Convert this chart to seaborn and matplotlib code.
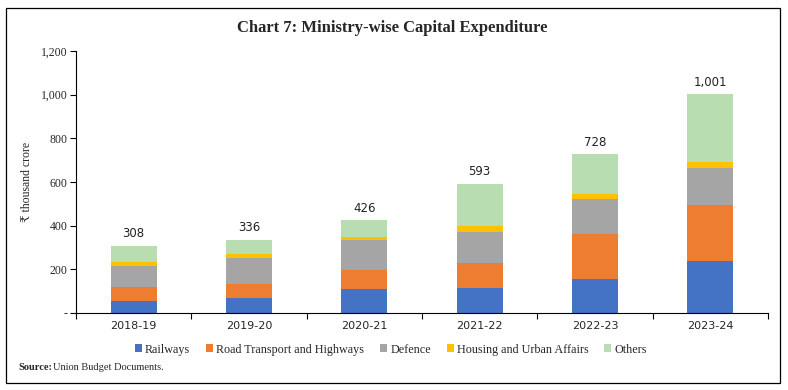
import matplotlib
matplotlib.use("Agg")
import matplotlib.pyplot as plt
import numpy as np
import pandas as pd
import seaborn as sns
from matplotlib.patches import Rectangle

YEARS = ["2018-19", "2019-20", "2020-21", "2021-22", "2022-23", "2023-24"]
RAILWAYS = [53, 67, 108, 116, 157, 238]
ROADS = [67, 66, 89, 114, 206, 258]
DEFENCE = [97, 118, 137, 142, 158, 169]
HOUSING = [18, 19, 15, 28, 25, 28]
OTHERS = [73, 66, 77, 193, 182, 308]
TOTALS = [308, 336, 426, 593, 728, 1001]

SERIES = ["Railways", "Road Transport and Highways", "Defence", "Housing and Urban Affairs", "Others"]
COLORS = ["#4472C4", "#ED7D31", "#A5A5A5", "#FFC000", "#B7DDB0"]
Y_TICKS = [0, 200, 400, 600, 800, 1000, 1200]

SERIF = ["Liberation Serif", "DejaVu Serif"]
SANS = ["DejaVu Sans"]

sns.set_theme(style="white")
plt.rcParams["font.family"] = SERIF

df = pd.DataFrame(
    {"year": YEARS, "Railways": RAILWAYS, "Road Transport and Highways": ROADS,
     "Defence": DEFENCE, "Housing and Urban Affairs": HOUSING, "Others": OTHERS}
)
cum = df[SERIES].cumsum(axis=1)

fig = plt.figure(figsize=(7.88, 3.90), dpi=100)
ax = fig.add_axes([76 / 788, 1 - 313 / 390, (768 - 76) / 788, (313 - 51) / 390])

# layered bars: draw cumulative totals from the top segment down
for name, color in reversed(list(zip(SERIES, COLORS))):
    sns.barplot(x=df["year"], y=cum[name], color=color, width=0.4,
                saturation=1, linewidth=0, ax=ax, label=name)

for i, tot in enumerate(TOTALS):
    ax.text(i, tot + 25, f"{tot:,}", ha="center", va="bottom",
            fontsize=8.5, family=SANS, color="#222222")

ax.set_xlim(-0.5, len(YEARS) - 0.5)
ax.set_ylim(0, 1200)
ax.set_yticks(Y_TICKS)
ax.set_yticklabels(["-" if v == 0 else f"{v:,}" for v in Y_TICKS], fontsize=8.5)
ax.set_xticks(range(len(YEARS)))
ax.set_xticklabels(YEARS, fontsize=8, family=SANS)
ax.set_xticks(np.arange(-0.5, len(YEARS)), minor=True)
ax.tick_params(axis="x", which="major", length=0, pad=6)
ax.tick_params(axis="x", which="minor", length=4, width=0.8, direction="out", color="black", bottom=True)
ax.tick_params(axis="y", length=4, width=0.8, direction="out", color="black", left=True, pad=2)
ax.set_xlabel("")
ax.set_ylabel("₹ thousand crore", fontsize=8.5, labelpad=6)
for s in ["top", "right"]:
    ax.spines[s].set_visible(False)
for s in ["left", "bottom"]:
    ax.spines[s].set_color("black")
    ax.spines[s].set_linewidth(0.8)
ax.grid(False)

handles, labels = ax.get_legend_handles_labels()
order = [labels.index(n) for n in SERIES]
leg = ax.legend([handles[i] for i in order], SERIES, loc="upper center",
                bbox_to_anchor=(0.455, -0.075), ncol=5, frameon=False, fontsize=8.7,
                handlelength=0.6, handleheight=0.6, handletextpad=0.25, columnspacing=1.3)

fig.text(392 / 788, 1 - 28 / 390, "Chart 7: Ministry-wise Capital Expenditure",
         ha="center", va="center", fontsize=12, fontweight="bold")
fig.text(18 / 788, 1 - 368 / 390, "Source:", ha="left", va="center", fontsize=7.5, fontweight="bold")
fig.text(53 / 788, 1 - 368 / 390, "Union Budget Documents.", ha="left", va="center", fontsize=7.5)

fig.patches.append(Rectangle((6 / 788, 1 - 383 / 390), (780 - 6) / 788, (383 - 8) / 390,
                             transform=fig.transFigure, fill=False, edgecolor="black", linewidth=0.9))

fig.savefig("out.png", dpi=100)
